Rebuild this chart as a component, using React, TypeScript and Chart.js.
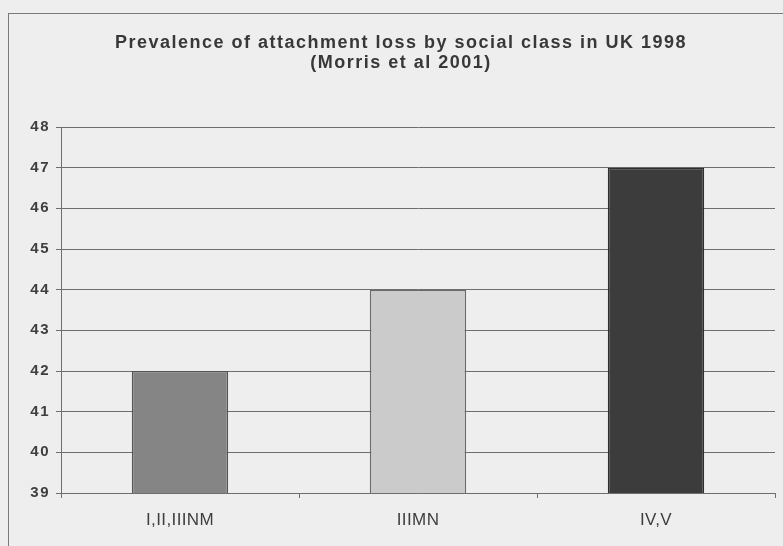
import React, { useEffect, useRef } from "react";
import { Chart, registerables } from "chart.js";

Chart.register(...registerables);

// Social class groups and the share of adults with attachment loss (%)
const categories: string[] = ["I,II,IIINM", "IIIMN", "IV,V"];
const prevalence: number[] = [42, 44, 47];
const barColors: string[] = ["#858585", "#cbcbcb", "#3c3c3c"];
const titleLines: string[] = [
  "Prevalence of attachment loss by social class in UK 1998",
  "(Morris et al 2001)",
];
const yMin = 39;
const yMax = 48;

const FONT = "'Liberation Sans', Arial, sans-serif";

// Title and value ticks are drawn with wide lettering; the category labels
// (moved to a later layer via ticks.z) are drawn with tighter lettering.
const letterSpacingPlugin = {
  id: "letterSpacing",
  beforeDraw(chart: Chart) {
    (chart.ctx as any).letterSpacing = "1.5px";
  },
  afterDatasetsDraw(chart: Chart) {
    (chart.ctx as any).letterSpacing = "0.4px";
  },
};

export default function App() {
  const canvasRef = useRef<HTMLCanvasElement | null>(null);

  useEffect(() => {
    if (!canvasRef.current) return;
    const chart = new Chart(canvasRef.current, {
      type: "bar",
      data: {
        labels: categories,
        datasets: [
          {
            data: prevalence,
            backgroundColor: barColors,
            borderColor: ["#555555", "#6a6a6a", "#2e2e2e"],
            borderWidth: 1.5,
            barPercentage: 0.405,
            categoryPercentage: 1,
          },
        ],
      },
      options: {
        responsive: false,
        animation: false,
        layout: { padding: { left: 27, right: 8, top: 0, bottom: 0 } },
        plugins: {
          legend: { display: false },
          tooltip: { enabled: false },
          title: {
            display: true,
            text: titleLines,
            color: "#383838",
            font: { family: FONT, size: 18, weight: "bold", lineHeight: "20px" },
            padding: { top: 33, bottom: 54 },
          },
        },
        scales: {
          x: {
            grid: {
              display: true,
              offset: true,
              drawOnChartArea: false,
              drawTicks: true,
              tickLength: 5,
              color: "#6e6e6e",
            },
            border: { display: true, color: "#6e6e6e", width: 1 },
            ticks: {
              z: 1,
              color: "#3e3e3e",
              font: { family: FONT, size: 17 },
              padding: 12,
              maxRotation: 0,
            },
            afterFit(scale: any) {
              scale.height = 53;
            },
          },
          y: {
            min: yMin,
            max: yMax,
            grid: {
              color: "#6e6e6e",
              tickLength: 5,
              lineWidth: 1,
            },
            border: { display: true, color: "#6e6e6e", width: 1 },
            ticks: {
              stepSize: 1,
              color: "#3e3e3e",
              font: { family: FONT, size: 15, weight: "bold" },
              padding: 6,
            },
            afterFit(scale: any) {
              scale.width = 34;
            },
          },
        },
      },
      plugins: [letterSpacingPlugin],
    });
    return () => chart.destroy();
  }, []);

  return (
    <div
      style={{
        position: "absolute",
        left: 0,
        top: 0,
        width: 783,
        height: 546,
        overflow: "hidden",
        background: "#eeeeee",
      }}
    >
      <div
        style={{
          position: "absolute",
          left: 8,
          top: 13,
          width: 800,
          height: 560,
          borderLeft: "1px solid #7a7a7a",
          borderTop: "1px solid #7a7a7a",
        }}
      />
      <canvas
        ref={canvasRef}
        width={783}
        height={546}
        style={{ position: "absolute", left: 0, top: 0, width: 783, height: 546 }}
      />
    </div>
  );
}
